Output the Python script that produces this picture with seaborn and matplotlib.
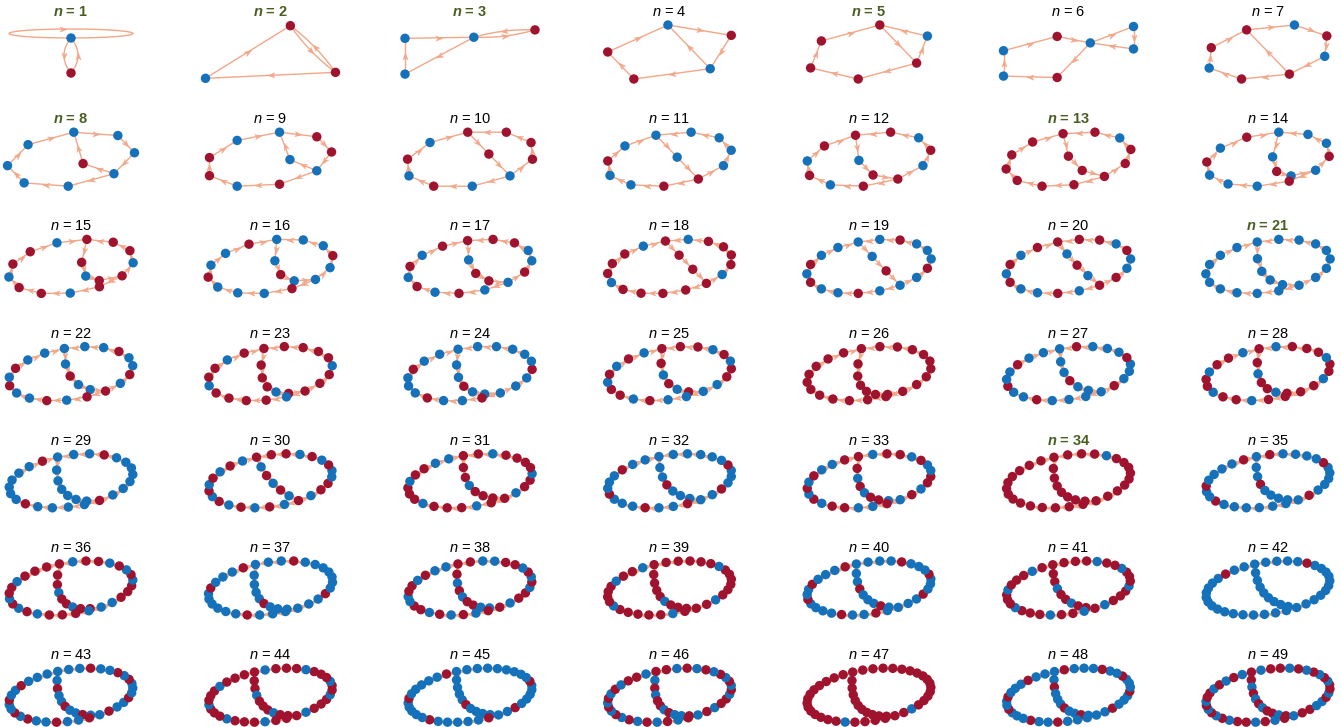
import numpy as np
import pandas as pd
import matplotlib
matplotlib.use("Agg")
import matplotlib.pyplot as plt
import seaborn as sns
from matplotlib.path import Path
from matplotlib.markers import MarkerStyle
from matplotlib.transforms import Affine2D

# ---------------- data ----------------
N_VALUES = list(range(1, 50))
HIGHLIGHT = [1, 2, 3, 5, 8, 13, 21, 34]

# graph structure: (shared path interior, return path X interior, return path Y interior)
# shared = -1 means both cycles meet at a single node
PATHS = {
    1: (-1, 0, 1), 2: (0, 0, 1), 3: (-1, 1, 2), 4: (1, 0, 2), 5: (0, 1, 3),
    6: (-1, 2, 4), 7: (3, 0, 3), 8: (2, 1, 4), 9: (2, 1, 5), 10: (1, 3, 5),
    11: (1, 4, 5), 12: (2, 4, 5), 13: (2, 4, 6), 14: (3, 3, 7), 15: (3, 3, 8),
    16: (3, 4, 8), 17: (3, 5, 8), 18: (2, 6, 9), 19: (2, 7, 9), 20: (3, 7, 9),
    21: (4, 7, 9), 22: (4, 7, 10), 23: (5, 7, 10), 24: (5, 8, 10), 25: (5, 8, 11),
    26: (6, 8, 11), 27: (5, 9, 12), 28: (6, 9, 12), 29: (6, 10, 12), 30: (5, 11, 13),
    31: (6, 10, 14), 32: (6, 11, 14), 33: (7, 11, 14), 34: (7, 12, 14), 35: (7, 12, 15),
    36: (8, 12, 15), 37: (8, 13, 15), 38: (8, 13, 16), 39: (8, 14, 16), 40: (8, 14, 17),
    41: (8, 15, 17), 42: (8, 15, 18), 43: (9, 15, 18), 44: (9, 16, 18), 45: (9, 16, 19),
    46: (10, 16, 19), 47: (10, 17, 19), 48: (10, 17, 20), 49: (10, 18, 20),
}

# node colours (r = red, b = blue), in node order
NODE_COLORS = {
    1: "br", 2: "rrb", 3: "brbb", 4: "brbrr", 5: "rrbrrr", 6: "bbbrbbr",
    7: "rbrbrrbr", 8: "bbbbrbbbb",
    9: "brrbb rbrrb", 10: "rrbrr rbrbr b", 11: "bbrbb bbrbb rb",
    12: "rbrrb rbrrb rbr", 13: "rrrrr rbrrr rrrr", 14: "bbrbb rbbrb bbrbr",
    15: "rrbrr brrrb rrbrr b", 16: "bbrbb brbbr bbbrb br", 17: "rbrrb rbbrr brbrb rbr",
    18: "rrrrb rrrrb rrrrb rrrb", 19: "bbrbb rbbbr bbrbb rbrb",
    20: "rbrbr rbbrb rrbrb brbrb r", 21: "bbbbb bbbbb bbbbb bbbbb bb",
    22: "bbrbb rbrbb rbbrb rbbrb rbb", 23: "rrrrb rrrrb rrrrb rrrrb rrbr",
    24: "bbbrb bbbbr bbbbb rbbrb bbrbb", 25: "rrbrb rbbrr brbrr bbrbr rbrbr b",
    26: "rrrrr rrrrr rrrrr rrrrr rrrrr rr", 27: "bbbrb bbrbb brbbb rbbbr bbrbb rbb",
    28: "rrbrr brrrb rrbrr rbrrb rrbrr brrb", 29: "bbbbb bbrbb bbbbb rbbbb bbrbb bbbbr",
    30: "rbrbr brbrr bbrbr brrbr brbrb rbrbr b", 31: "rrrbr rrrbr rbrrr rbrrb rrrbr rrbrr bb",
    32: "bbbrb bbbbr bbbrb bbbbr bbrbb brbbb rbb", 33: "rrbrb rrbbr brrbb rbrrb rbbrr brbrb rbbr",
    34: "rrrrr rrrrr rrrrr rrbrr rrrrr rrrrr rrrrr", 35: "bbbrb bbbbr bbbbb rbbbb rbbbb bbrbb rbbbb r",
    36: "rrrbr rbrrb brrrb rbrbr rbbrr rbrbr brrbr rr", 37: "bbbbb rbbbb bbrbb bbbbb rbbbb brbbb bbbrb bbr",
    38: "rrbrb rrbbr brrbr brbrr bbrrb rbrbr rbbrr brbb", 39: "rrrrr brrrr rbrrr rrrbr rrrrr brrrr rbrrr rbrrb",
    40: "bbbrb bbrbb bbrbb brbbb rbbbb rbbrb bbbrb brbbb r", 41: "rrrbr rbrrr brrrb rrrbr rbrrr brrbr rrbrr rbrrr br",
    42: "bbbbb bbbbb bbbbb bbbbb rbbbb bbbbb bbbbb bbbbb rbb", 43: "bbrbb rbbrb brbbr bbbrb rbbrb brbbr bbrbr bbrbb rbbb",
    44: "rrrbr rrbrr rbrrr brrbr rrbrr rbrrb rrrbr rrbrr rbrrr", 45: "bbbbb rbbbb bbrbb bbbrb bbbbb bbrbb bbbrb bbbbr bbbbb r",
    46: "rbrbr rbrbb rbrbr rbrbr brbrb rbrrb rbrbr brbrb rbrbr rb", 47: "rrrrr rrrrr rrrbr rrrrr rrrrr rrrrr rrrbr rrrrr rrrrr rrr",
    48: "bbrbb brbbr bbbrb bbrbb brbbr bbbrb bbrbb rbbbr bbrbb brbb", 49: "rrbrb rbrrb rbrrb brbrr brbrb rbrrb rbrbr rbrbr brbrr brbrb",
}

# ---------------- style ----------------
RED = "#A0132F"
BLUE = "#1471BA"
EDGE = "#F2A789"
GREEN = "#4A5E22"
W_FIG, H_FIG = 1341, 727
ELL_B = 0.42          # ellipse flattening
PHI = np.radians(20)  # side of the ellipse where the chord sits
SHEAR = 0.12
BOW = 0.8

sns.set_theme(style="white")
plt.rcParams["font.family"] = ["Liberation Sans", "DejaVu Sans"]
plt.rcParams["mathtext.fontset"] = "custom"
plt.rcParams["mathtext.it"] = "Liberation Sans:italic"
plt.rcParams["mathtext.rm"] = "Liberation Sans"
plt.rcParams["mathtext.bf"] = "Liberation Sans:bold"
plt.rcParams["mathtext.bfit"] = "Liberation Sans:italic:bold"

ARROW_PATH = Path([(1.0, 0.0), (-1.0, 0.75), (-0.45, 0.0), (-1.0, -0.75), (1.0, 0.0)],
                  [Path.MOVETO, Path.LINETO, Path.LINETO, Path.LINETO, Path.CLOSEPOLY])


def build_graph(n):
    s, x, y = PATHS[n]
    edges = []
    u = 0
    nxt = 1
    paths = {}
    if s >= 0:
        seq = [u]
        for _ in range(s):
            seq.append(nxt); nxt += 1
        v = nxt; nxt += 1
        seq.append(v)
        paths["S"] = seq
    else:
        v = u
    for key, cnt in (("X", x), ("Y", y)):
        seq = [v]
        for _ in range(cnt):
            seq.append(nxt); nxt += 1
        seq.append(u)
        paths[key] = seq
    for seq in paths.values():
        for a, b in zip(seq[:-1], seq[1:]):
            edges.append((a, b))
    return nxt, edges, paths, s


def ell(th):
    return np.array([np.cos(th), ELL_B * np.sin(th)])


def layout(N, paths, s):
    pos = np.zeros((N, 2))
    if s < 0:
        X, Y = paths["X"], paths["Y"]
        mY, mX = len(Y) - 1, len(X) - 1
        a1, a2 = mY / 6.0, mX / 6.0
        for k, node in enumerate(Y[:-1]):
            th = -2 * np.pi * k / mY
            pos[node] = [-a1 + a1 * np.cos(th), 0.45 * a1 * np.sin(th)]
        for k, node in enumerate(X[:-1]):
            th = np.pi - 2 * np.pi * k / mX
            pos[node] = [a2 + a2 * np.cos(th), 0.45 * a2 * np.sin(th) + 0.35 * a2]
        pos[:, 1] += SHEAR * pos[:, 0]
        return pos
    uv = [paths["S"], paths["X"][::-1], paths["Y"][::-1]]
    chord, pb, pc = sorted(uv, key=len)
    ea, eb, ec = len(chord) - 1, len(pb) - 1, len(pc) - 1
    step = 2 * np.pi / (eb + ec)
    thu = PHI + eb * step / 2
    for k, node in enumerate(pb):
        pos[node] = ell(thu - k * step)
    for k, node in enumerate(pc):
        pos[node] = ell(thu + k * step)
    pu, pv = pos[chord[0]], pos[chord[-1]]
    d = np.hypot(*(pv - pu))
    per = np.pi * (3 * (1 + ELL_B) - np.sqrt((3 + ELL_B) * (1 + 3 * ELL_B)))
    need = ea * per / (eb + ec)
    mid = (pu + pv) / 2
    perp = np.array([-(pv - pu)[1], (pv - pu)[0]]) / max(d, 1e-9)
    if np.dot(perp, ell(PHI) - mid) > 0:
        perp = -perp
    hh = BOW * np.sqrt(max(need ** 2 - d ** 2, 0) * 3 / 16)
    ctrl = mid + perp * 2 * hh
    for k, node in enumerate(chord):
        t = k / ea
        pos[node] = (1 - t) ** 2 * pu + 2 * (1 - t) * t * ctrl + t ** 2 * pv
    pos[:, 1] += SHEAR * pos[:, 0]
    return pos


def draw_arrow(ax, p, ang):
    m = MarkerStyle(ARROW_PATH, transform=Affine2D().rotate_deg(ang))
    ax.plot([p[0]], [p[1]], marker=m, markersize=5, color=EDGE, mec=EDGE, mew=0.3, zorder=2)


fig = plt.figure(figsize=(W_FIG / 100, H_FIG / 100), dpi=100)
PW, PH = 150, 66
for i, n in enumerate(N_VALUES):
    row, col = divmod(i, 7)
    xc = 71 + 199.5 * col
    ty = 12 + 107.2 * row
    gy = ty + 40
    ax = fig.add_axes([(xc - PW / 2) / W_FIG, 1 - (gy + PH / 2) / H_FIG, PW / W_FIG, PH / H_FIG])
    ax.set_xlim(-PW / 2, PW / 2); ax.set_ylim(-PH / 2, PH / 2)
    ax.axis("off")
    ax.patch.set_visible(False)

    N, edges, paths, s = build_graph(n)
    cols = NODE_COLORS[n].replace(" ", "")
    if len(cols) != N:
        print("length mismatch", n, len(cols), N)
        cols = (cols + cols[-1] * N)[:N]

    if n == 1:
        pos = np.array([[0.0, 0.0], [0.0, -1.0]])
    else:
        pos = layout(N, paths, s)
    ctr = (pos.max(0) + pos.min(0)) / 2
    pos = pos - ctr
    ext = pos.max(0) - pos.min(0)
    if n == 1:
        sc = 35.0
    else:
        sc = min(130 / max(ext[0], 1e-6), 54 / max(ext[1], 1e-6))
    pos = pos * sc
    if n == 1:
        pos[:, 1] -= 3.5

    eset = set(edges)
    for a, b in edges:
        pa, pb_ = pos[a], pos[b]
        if a == b:
            t = np.linspace(0, 2 * np.pi, 200)
            ex = 62 * np.sin(t) + pa[0]
            ey = 4.5 - 4.5 * np.cos(t) + pa[1]
            ax.plot(ex, ey, color=EDGE, lw=1.0, zorder=1)
            draw_arrow(ax, (pa[0] - 8, pa[1] + 9), 0)
            continue
        dvec = pb_ - pa
        L = np.hypot(*dvec)
        if (b, a) in eset:
            perp = np.array([dvec[1], -dvec[0]]) / L
            h = 0.2 * L if n == 1 else 0.04 * L
            ctrl = (pa + pb_) / 2 + perp * 2 * h
            t = np.linspace(0, 1, 41)[:, None]
            curve = (1 - t) ** 2 * pa + 2 * (1 - t) * t * ctrl + t ** 2 * pb_
            ax.plot(curve[:, 0], curve[:, 1], color=EDGE, lw=1.0, zorder=1)
            mid = curve[20]
            tan = curve[21] - curve[19]
        else:
            ax.plot([pa[0], pb_[0]], [pa[1], pb_[1]], color=EDGE, lw=1.0, zorder=1)
            mid = (pa + pb_) / 2
            tan = dvec
        draw_arrow(ax, mid, np.degrees(np.arctan2(tan[1], tan[0])))

    df = pd.DataFrame({"x": pos[:, 0], "y": pos[:, 1], "c": list(cols)})
    sns.scatterplot(data=df, x="x", y="y", hue="c", palette={"r": RED, "b": BLUE},
                    s=46, edgecolor="none", legend=False, ax=ax, zorder=3)
    ax.set_xlabel(""); ax.set_ylabel("")

    if n in HIGHLIGHT:
        fig.text(xc / W_FIG, 1 - ty / H_FIG, r"$\mathbfit{n}$ = %d" % n, ha="center", va="center",
                 fontsize=10.5, color=GREEN, fontweight="bold")
    else:
        fig.text(xc / W_FIG, 1 - ty / H_FIG, r"$\mathit{n}$ = %d" % n, ha="center", va="center",
                 fontsize=10.5, color="black")

fig.savefig("out.png", dpi=100)
